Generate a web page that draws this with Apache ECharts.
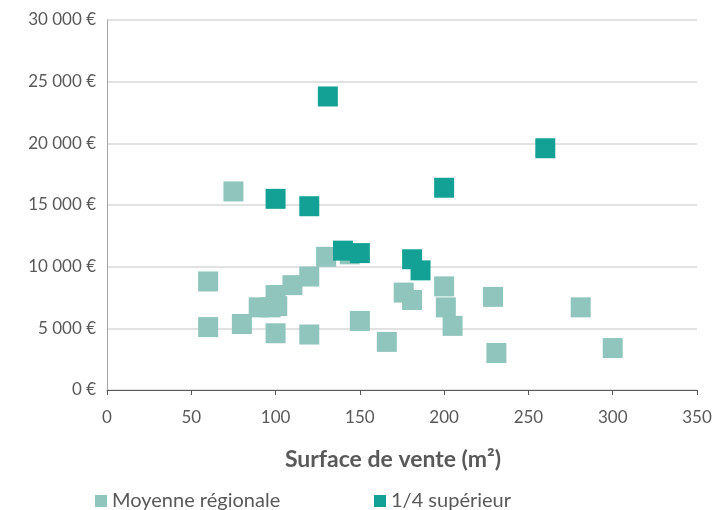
<!DOCTYPE html>
<html>
<head>
<meta charset="utf-8">
<script src="https://cdn.jsdelivr.net/npm/echarts@6/dist/echarts.min.js"></script>
<style>html,body{margin:0;padding:0;background:#fff;}#c{width:718px;height:510px;}</style>
</head>
<body>
<div id="c"></div>
<script>
var seriesNames = ['Moyenne régionale', '1/4 supérieur'];
var moyenneRegionale = [
  [75,16100],[130,10800],[144,11000],[60,8800],[60,5100],[80,5350],
  [90,6700],[97,6700],[100,7700],[101,6800],[100,4600],[110,8500],
  [120,9200],[120,4500],[150,5600],[166,3900],[176,7900],[181,7300],
  [200,8400],[201,6700],[205,5200],[229,7550],[231,3000],[281,6700],[300,3400]
];
var quartSuperieur = [
  [131,23800],[100,15500],[120,14900],[200,16400],[140,11300],
  [150,11100],[181,10600],[186,9700],[260,19600]
];
var xTicks = [0,50,100,150,200,250,300,350];
var yTicks = [0,5000,10000,15000,20000,25000,30000];
var xTitle = 'Surface de vente (m²)';

var font = 'Lato';
var chart = echarts.init(document.getElementById('c'));
chart.setOption({
  animation: false,
  grid: {left:107, right:21, top:20, bottom:120, containLabel:false},
  xAxis: {
    type:'value', min:xTicks[0], max:xTicks[xTicks.length-1], interval:50,
    name: xTitle, nameLocation:'middle', nameGap:58,
    nameTextStyle:{color:'#595959', fontFamily:font, fontSize:23, fontWeight:'bold', padding:[0,18,0,0]},
    axisLine:{show:true, lineStyle:{color:'#595959', width:1}},
    axisTick:{show:true, inside:false, length:5, lineStyle:{color:'#595959'}},
    axisLabel:{color:'#595959', fontFamily:font, fontSize:17, margin:19},
    splitLine:{show:false}
  },
  yAxis: {
    type:'value', min:yTicks[0], max:yTicks[yTicks.length-1], interval:5000,
    axisLine:{show:true, lineStyle:{color:'#a6a6a6', width:1}},
    axisTick:{show:false},
    axisLabel:{color:'#595959', fontFamily:font, fontSize:17, margin:11,
      formatter:function(v){return String(v).replace(/\B(?=(\d{3})+(?!\d))/g,' ')+' €';}},
    splitLine:{show:true, lineStyle:{color:'#d9d9d9', width:1.5}}
  },
  legend: [
    {data:[seriesNames[0]], left:90, top:486, itemWidth:12, itemHeight:12, itemGap:6, icon:'rect',
     textStyle:{color:'#595959', fontFamily:font, fontSize:20}},
    {data:[seriesNames[1]], left:369, top:486, itemWidth:12, itemHeight:12, icon:'rect',
     textStyle:{color:'#595959', fontFamily:font, fontSize:20}}
  ],
  series: [
    {name:seriesNames[0], type:'scatter', symbol:'rect', symbolSize:20,
     itemStyle:{color:'#8fc5bc', opacity:1}, data:moyenneRegionale},
    {name:seriesNames[1], type:'scatter', symbol:'rect', symbolSize:20,
     itemStyle:{color:'#13a196', opacity:1}, data:quartSuperieur}
  ]
});
</script>
</body>
</html>
